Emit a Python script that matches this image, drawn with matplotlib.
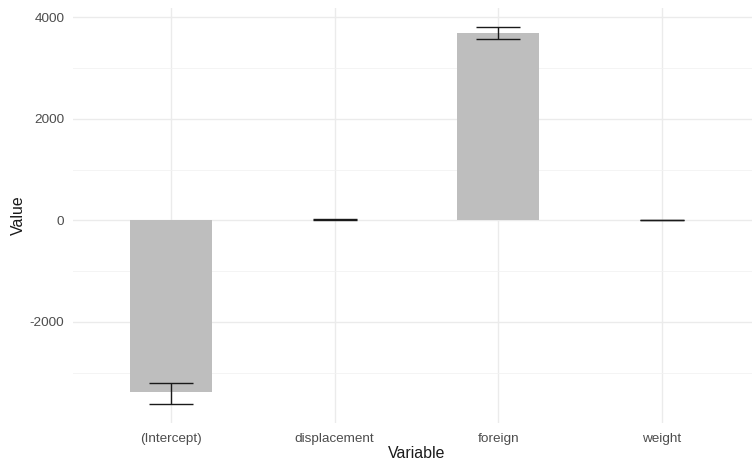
import matplotlib
matplotlib.use("Agg")
import matplotlib.pyplot as plt
from matplotlib.ticker import MultipleLocator, FuncFormatter
import numpy as np

plt.rcParams['font.family'] = ['Liberation Sans', 'DejaVu Sans']
plt.rcParams['axes.unicode_minus'] = False

variables = ["(Intercept)", "displacement", "foreign", "weight"]
values = [-3392, 10.2, 3693, 3.3]
err_low = [-3622, 4.0, 3575, 1.5]
err_high = [-3202, 16.4, 3817, 5.1]

W, H = 752, 466
fig = plt.figure(figsize=(W / 100, H / 100), dpi=100)
# panel: x 0.4 -> 72.7 px, 4.6 -> 760 px ; y from 7.7 px (top) to 423 px (bottom)
left = 72.7 / W
right = 760 / W
top = 1 - 7.7 / H
bottom = 1 - 423 / H
ax = fig.add_axes([left, bottom, right - left, top - bottom])

x = np.arange(1, len(variables) + 1)
ax.bar(x, values, width=0.5, color="#BEBEBE", zorder=2)
yerr = [np.array(values) - np.array(err_low), np.array(err_high) - np.array(values)]
ax.errorbar(x, values, yerr=yerr, fmt="none", ecolor="#1a1a1a", elinewidth=1.0,
            capsize=16, capthick=1.0, zorder=3)

ax.set_xlim(0.4, 4.6)
ax.set_ylim(-3994, 4189)
ax.yaxis.set_major_locator(MultipleLocator(2000))
ax.yaxis.set_minor_locator(MultipleLocator(1000))
ax.yaxis.set_major_formatter(FuncFormatter(lambda v, p: f"{int(round(v))}"))
ax.set_xticks(x)
ax.set_xticklabels(variables)

ax.grid(which="major", color="#EBEBEB", linewidth=1.0, zorder=0)
ax.grid(which="minor", axis="y", color="#F2F2F2", linewidth=0.6, zorder=0)
ax.set_axisbelow(True)
for s in ax.spines.values():
    s.set_visible(False)
ax.tick_params(which="both", length=0, colors="#4D4D4D", labelsize=9.7)
ax.tick_params(axis="y", pad=6)
ax.tick_params(axis="x", pad=7)

ax.set_xlabel("Variable", fontsize=11.4, color="#1a1a1a", labelpad=1)
ax.set_ylabel("Value", fontsize=11.4, color="#1a1a1a", labelpad=3)

fig.savefig("out.png", dpi=100, facecolor="white")
